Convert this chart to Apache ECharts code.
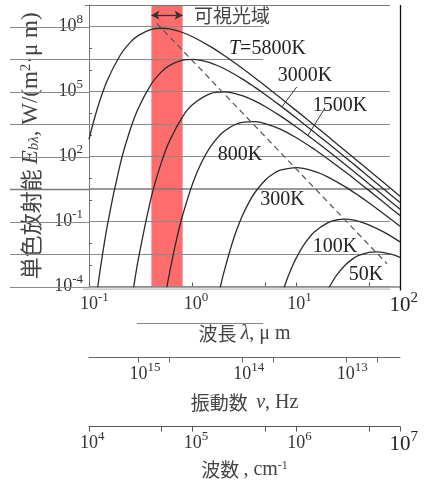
<!DOCTYPE html>
<html><head><meta charset="utf-8">
<script src="https://cdn.jsdelivr.net/npm/echarts@6/dist/echarts.min.js"></script>
<style>html,body{margin:0;padding:0;background:#fff}#c{width:428px;height:485px}</style>
</head><body><div id="c"></div>
<script>
// ---------------- DATA ----------------
const temperatures = ['T=5800K', '3000K', '1500K', '800K', '300K', '100K', '50K'];

const lam5800 = [0.1, 0.12, 0.15, 0.2, 0.25, 0.3, 0.4, 0.5, 0.6, 0.8, 1, 1.5, 2, 3, 4, 5, 7, 10, 15, 20, 30, 40, 50, 70, 100];
const e5800 = [630, 1.58e4, 3.24e5, 4.80e6, 1.88e7, 3.95e7, 7.41e7, 8.45e7, 7.83e7, 5.38e7, 3.42e7, 1.17e7, 4.76e6, 1.20e6, 4.26e5, 1.86e5, 5.24e4, 1.33e4, 2740, 885, 179, 57.1, 23.6, 6.18, 1.49];

const lam3000 = [0.12, 0.15, 0.2, 0.25, 0.3, 0.4, 0.5, 0.6, 0.8, 1, 1.5, 2, 3, 4, 5, 7, 10, 15, 20, 30, 40, 50, 70, 100];
const e3000 = [6.59e-5, 6.41e-2, 45.1, 1790, 1.76e4, 2.27e5, 8.17e5, 1.63e6, 2.85e6, 3.12e6, 2.10e6, 1.17e6, 3.91e5, 1.58e5, 7.43e4, 2.26e4, 6080, 1310, 432, 88.9, 28.7, 11.9, 3.14, 0.762];

const lam1500 = [0.25, 0.27, 0.3, 0.4, 0.5, 0.6, 0.8, 1, 1.5, 2, 3, 4, 5, 7, 10, 15, 20, 30, 40, 50, 70, 100];
const e1500 = [8.3e-6, 9.77e-5, 2.00e-3, 1.41, 55.7, 548, 7100, 2.55e4, 8.26e4, 9.75e4, 6.56e4, 3.66e4, 2.06e4, 7590, 2320, 551, 190, 40.9, 13.5, 5.66, 1.52, 0.372];

const lam800 = [0.55, 0.6, 0.7, 0.8, 1, 1.2, 1.5, 2, 3, 4, 5, 7, 10, 15, 20, 30, 40, 50, 70, 100];
const e800 = [4.67e-5, 4.61e-4, 1.55e-2, 0.197, 5.78, 46.6, 306, 1460, 3850, 4120, 3370, 1850, 743, 213, 80.2, 18.8, 6.44, 2.77, 0.760, 0.190];

const lam300 = [1.8, 2, 2.5, 3, 3.5, 4, 5, 6, 7, 10, 15, 20, 30, 40, 50, 70, 100];
const e300 = [5.31e-5, 4.51e-4, 1.79e-2, 0.176, 0.796, 2.27, 8.17, 16.3, 23.6, 31.2, 21.0, 11.7, 3.91, 1.58, 0.743, 0.226, 0.0608];

const lam100 = [7, 8, 9, 10, 12, 15, 20, 25, 30, 40, 50, 70, 100];
const e100 = [2.64e-5, 1.77e-4, 7.23e-4, 2.11e-3, 9.33e-3, 3.37e-2, 8.79e-2, 0.122, 0.129, 0.103, 7.13e-2, 3.27e-2, 1.16e-2];

const lam50 = [20, 22, 25, 30, 35, 40, 50, 60, 70, 85, 100];
const e50 = [6.59e-5, 1.51e-4, 3.85e-4, 1.05e-3, 1.91e-3, 2.75e-3, 3.80e-3, 4.01e-3, 3.72e-3, 2.96e-3, 2.23e-3];

// Wien displacement locus (dashed)
const wienLam = [0.45, 75];
const wienE = [1.42e8, 1.13e-3];

// visible range (可視光域), micrometres
const visibleRange = [0.4, 0.8];

// axes ranges and ticks
const lambdaRange = [0.1, 100];
const lambdaTicks = [0.1, 0.5, 1, 5, 10, 50, 100];
const lambdaLabels = [0.1, 1, 10, 100];
const freqRange = [3e12, 3e15];
const freqTicks = [5e12, 1e13, 5e13, 1e14, 5e14, 1e15];
const freqLabels = [1e13, 1e14, 1e15];
const waveNumRange = [1e4, 1e7];
const waveNumTicks = [1e4, 5e4, 1e5, 5e5, 1e6, 5e6, 1e7];
const waveNumLabels = [1e4, 1e5, 1e6, 1e7];
const eRange = [1e-4, 1e9];
const eTicks = [1e-4, 1e-3, 1e-2, 1e-1, 1, 10, 1e2, 1e3, 1e4, 1e5, 1e6, 1e7, 1e8, 1e9];
const eLabels = [1e-4, 1e-1, 1e2, 1e5, 1e8];
const eGridLevels = [1e-4, 3.16e-3, 1e-1, 3.16, 1e2, 3162, 1e5, 3.16e6, 1e8];

// ---------------- LAYOUT ----------------
const SERIF = 'Liberation Serif';
const CJK = 'Noto Sans CJK JP';
const series = [
  [lam5800, e5800], [lam3000, e3000], [lam1500, e1500], [lam800, e800],
  [lam300, e300], [lam100, e100], [lam50, e50]
];
const labelAnchors = [[5.26, 9.8e6], [12.1, 5.3e5], [26.3, 2.19e4], [2.86, 121], [7.35, 1.02], [23.6, 6.97e-3], [46.9, 3.57e-4]];
const leaders = [[[10.1, 1.65e5], [7.26, 2.0e4]], [[18.9, 1.77e4], [12.9, 933]]];
const visibleTextAnchor = [2.39, 3.08e8];
const arrowLevel = 3.4e8;
const ruleEndLong = 80, ruleEndShort = 4.8;

const zip = (a, b) => a.map((v, i) => [v, b[i]]);
const exp10 = v => Math.round(Math.log10(v));

const tickRich = {
  b: {fontFamily: SERIF, fontSize: 18, color: '#333', lineHeight: 28},
  s: {fontFamily: SERIF, fontSize: 13, color: '#333', verticalAlign: 'top'},
  h: {fontFamily: SERIF, fontSize: 13, color: 'rgba(0,0,0,0)', verticalAlign: 'top'},
  B: {fontFamily: SERIF, fontSize: 21, color: '#222', lineHeight: 30},
  S: {fontFamily: SERIF, fontSize: 15, color: '#222', verticalAlign: 'top'},
  H: {fontFamily: SERIF, fontSize: 15, color: 'rgba(0,0,0,0)', verticalAlign: 'top'}
};
function centeredPow(bigExp) {
  return function (v) {
    const e = exp10(v);
    const s = String(e);
    if (e === bigExp) return '{H|' + s + '}{B|10}{S|' + s + '}';
    return '{h|' + s + '}{b|10}{s|' + s + '}';
  };
}
const nameRich = {
  c: {fontFamily: CJK, fontSize: 19, color: '#444'},
  i: {fontFamily: SERIF, fontSize: 20, fontStyle: 'italic', color: '#444'},
  t: {fontFamily: SERIF, fontSize: 20, color: '#444'},
  sup: {fontFamily: SERIF, fontSize: 12, color: '#444', verticalAlign: 'top'},
  sub: {fontFamily: SERIF, fontSize: 13, fontStyle: 'italic', color: '#444', verticalAlign: 'bottom'}
};
const yNameRich = {
  c: {fontFamily: CJK, fontSize: 22, color: '#444'},
  i: {fontFamily: SERIF, fontSize: 23, fontStyle: 'italic', color: '#444'},
  t: {fontFamily: SERIF, fontSize: 23, color: '#444'},
  sup: {fontFamily: SERIF, fontSize: 15, color: '#444', verticalAlign: 'top'},
  sub: {fontFamily: SERIF, fontSize: 15, fontStyle: 'italic', color: '#444', verticalAlign: 'bottom'}
};

const chart = echarts.init(document.getElementById('c'), null, {renderer: 'canvas'});

const curveSeries = series.map((s, i) => ({
  type: 'line', name: temperatures[i], data: zip(s[0], s[1]),
  xAxisIndex: 0, yAxisIndex: 0, showSymbol: false, symbol: 'none',
  smooth: 0.35, clip: true, silent: true, z: 6,
  lineStyle: {color: '#2b2b2b', width: 1.3}
}));

// horizontal rules inside the plot (drawn above the visible band)
const ruleSeries = {
  type: 'line', name: 'rules', data: [], silent: true, z: 4,
  markLine: {
    silent: true, z: 4, symbol: ['none', 'none'], label: {show: false}, animation: false,
    data: eGridLevels.map(lv => [
      {coord: [lambdaRange[0], lv], lineStyle: {color: lv === 3.16 ? '#7a7a7a' : '#8a8a8a', width: lv === 3.16 ? 1.6 : 1, type: 'solid'}},
      {coord: [lv > 1e6 ? ruleEndShort : ruleEndLong, lv]}
    ])
  }
};

const option = {
  animation: false,
  backgroundColor: '#fff',
  grid: {left: 89, top: 5, right: 28, bottom: 198, containLabel: false},
  xAxis: [
    {
      type: 'log', logBase: 10, min: lambdaRange[0], max: lambdaRange[1], position: 'bottom',
      axisLine: {show: true, lineStyle: {color: '#888', width: 1.5}},
      axisTick: {show: true, inside: true, length: 4, customValues: lambdaTicks, lineStyle: {color: '#555'}},
      axisLabel: {customValues: lambdaLabels, formatter: centeredPow(2), rich: tickRich, margin: 4},
      splitLine: {show: false}, minorTick: {show: false},
      name: '{c|波長 }{i|λ}{t|, μ m}', nameLocation: 'middle', nameGap: 37,
      nameTextStyle: {rich: nameRich}
    },
    {
      type: 'log', logBase: 10, min: freqRange[0], max: freqRange[1], inverse: true,
      position: 'bottom', offset: 71,
      axisLine: {show: true, lineStyle: {color: '#666', width: 1}},
      axisTick: {show: true, inside: false, length: 5, customValues: freqTicks, lineStyle: {color: '#666'}},
      axisLabel: {customValues: freqLabels, formatter: centeredPow(99), rich: tickRich, margin: 3},
      splitLine: {show: false},
      name: '{c|振動数  }{i|ν}{t|, Hz}', nameLocation: 'middle', nameGap: 35,
      nameTextStyle: {rich: nameRich}
    },
    {
      type: 'log', logBase: 10, min: waveNumRange[0], max: waveNumRange[1],
      position: 'bottom', offset: 140,
      axisLine: {show: true, lineStyle: {color: '#555', width: 1}},
      axisTick: {show: true, inside: false, length: 5, customValues: waveNumTicks, lineStyle: {color: '#555'}},
      axisLabel: {customValues: waveNumLabels, formatter: centeredPow(7), rich: tickRich, margin: 3},
      splitLine: {show: false},
      name: '{c|波数 }{t|, cm}{sup|-1}', nameLocation: 'middle', nameGap: 32,
      nameTextStyle: {rich: nameRich}
    }
  ],
  yAxis: {
    type: 'log', logBase: 10, min: eRange[0], max: eRange[1],
    axisLine: {show: true, lineStyle: {color: '#777', width: 1}},
    axisTick: {show: true, inside: true, length: 3, customValues: eTicks, lineStyle: {color: '#666'}},
    axisLabel: {customValues: eLabels, formatter: v => '{b|10}{s|' + exp10(v) + '}', rich: tickRich, margin: 6},
    splitLine: {show: false}, minorTick: {show: false},
    name: '{c|単色放射能 }{i|E}{sub|bλ}{t|, W/(m}{sup|2}{t|·μ m)}',
    nameLocation: 'middle', nameRotate: 90, nameGap: 47,
    nameTextStyle: {rich: yNameRich}
  },
  series: curveSeries.concat([ruleSeries, {
    type: 'line', name: 'wien', data: zip(wienLam, wienE), showSymbol: false, symbol: 'none',
    silent: true, z: 6, clip: true,
    lineStyle: {color: '#555', width: 1.2, type: [6, 4]},
    markArea: {
      silent: true, z: 1,
      itemStyle: {color: '#ff6c6c', opacity: 1},
      data: [[{xAxis: visibleRange[0]}, {xAxis: visibleRange[1]}]]
    },
    markLine: {
      silent: true, z: 7, symbol: ['arrow', 'arrow'], symbolSize: [7, 8], label: {show: false},
      lineStyle: {color: '#333', width: 1.3, type: 'solid'},
      data: [[{coord: [visibleRange[0], arrowLevel]}, {coord: [visibleRange[1], arrowLevel]}]]
    }
  }])
};
chart.setOption(option);

// ---------- decorations & annotations positioned through the axes' scales ----------
const P = (x, y) => chart.convertToPixel({gridIndex: 0}, [x, y]);
const g = [];
const leftEdge = P(lambdaRange[0], eRange[0]);
const rightTop = P(lambdaRange[1], eRange[1]);
const xL = leftEdge[0], yB = leftEdge[1], xR = rightTop[0], yT = rightTop[1];
const xRuleEnd = P(ruleEndLong, 1)[0];

// extensions of the rules to the left of the plot
eGridLevels.forEach((lv) => {
  const y = Math.round(P(1, lv)[1]) + 0.5;
  g.push({type: 'line', z: 4, silent: true,
    shape: {x1: 10, y1: y, x2: xL, y2: y},
    style: {stroke: lv === 3.16 ? '#7a7a7a' : '#8a8a8a', lineWidth: lv === 3.16 ? 1.6 : 1}});
});
// frame top and right, second bottom rule
g.push({type: 'line', z: 4, silent: true, shape: {x1: xL - 4, y1: yT + 0.5, x2: xRuleEnd, y2: yT + 0.5}, style: {stroke: '#777', lineWidth: 1}});
g.push({type: 'line', z: 4, silent: true, shape: {x1: xR + 0.5, y1: yT, x2: xR + 0.5, y2: yB + 4}, style: {stroke: '#111', lineWidth: 1.3}});
g.push({type: 'line', z: 4, silent: true, shape: {x1: xL - 6, y1: yB + 2.5, x2: xRuleEnd, y2: yB + 2.5}, style: {stroke: '#aaa', lineWidth: 1}});
// rule above wavelength title
g.push({type: 'line', z: 4, silent: true, shape: {x1: 137, y1: 323.5, x2: 263, y2: 323.5}, style: {stroke: '#888', lineWidth: 1}});

// curve labels
const curveRich = {
  i: {fontFamily: SERIF, fontSize: 20, fontStyle: 'italic', fill: '#222'},
  t: {fontFamily: SERIF, fontSize: 20, fill: '#222'}
};
temperatures.forEach((t, i) => {
  const p = P(labelAnchors[i][0], labelAnchors[i][1]);
  const txt = t.startsWith('T=') ? '{i|T}{t|' + t.slice(1) + '}' : '{t|' + t + '}';
  g.push({type: 'text', z: 10, silent: true, x: p[0], y: p[1],
    style: {text: txt, rich: curveRich, align: 'center', verticalAlign: 'middle', font: '20px ' + SERIF, fill: '#222'}});
});
leaders.forEach(l => {
  const a = P(l[0][0], l[0][1]), b = P(l[1][0], l[1][1]);
  g.push({type: 'line', z: 10, silent: true, shape: {x1: a[0], y1: a[1], x2: b[0], y2: b[1]}, style: {stroke: '#333', lineWidth: 1}});
});
const vp = P(visibleTextAnchor[0], visibleTextAnchor[1]);
g.push({type: 'text', z: 10, silent: true, x: vp[0], y: vp[1],
  style: {text: '可視光域', align: 'center', verticalAlign: 'middle', font: '19px "' + CJK + '"', fill: '#444'}});

chart.setOption({graphic: g});
</script>
</body></html>
